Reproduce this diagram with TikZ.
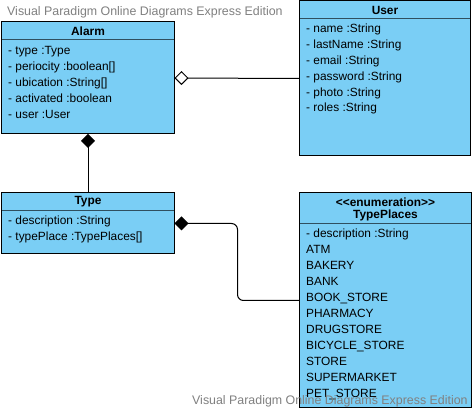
\documentclass[tikz,border=0pt]{standalone}
\usepackage{fontspec}
\setmainfont{Liberation Sans}
\usetikzlibrary{arrows.meta}
\definecolor{classfill}{RGB}{122,206,245}
\definecolor{divider}{RGB}{47,79,95}
\definecolor{wm}{RGB}{128,128,128}
\begin{document}
\begin{tikzpicture}[x=1pt,y=-1pt,
  cls/.style={draw=black, fill=classfill, line width=1pt, anchor=north west, inner sep=0pt, outer sep=0pt},
  hdr/.style={font=\bfseries\fontsize{11.9}{13.5}\selectfont, anchor=center, inner sep=0pt, align=center},
  attr/.style={font=\fontsize{11.9}{13}\selectfont, anchor=west, inner sep=0pt, text height=8.5pt, text depth=2.2pt},
  wmark/.style={text=wm, font=\fontsize{12.4}{14}\selectfont, anchor=west, inner sep=0pt, text height=8.8pt, text depth=2.6pt},
  divline/.style={draw=divider, line width=1pt},
  conn/.style={draw=black, line width=1pt},
  hollowdiamond/.style={{Diamond[fill=white, length=14pt, width=14pt]}-},
  fulldiamond/.style={{Diamond[length=14pt, width=14pt]}-}]
\useasboundingbox (0,0) rectangle (475,411);
\fill[white] (0,0) rectangle (475,411);

% class boxes
\node[cls, minimum width=173pt, minimum height=112pt] (alarm) at (1.5,22) {};
\node[cls, minimum width=173pt, minimum height=61pt] (type) at (1.5,193) {};
\node[cls, minimum width=171pt, minimum height=155pt] (user) at (299.5,1) {};
\node[cls, minimum width=172pt, minimum height=215pt] (tp) at (299.5,193) {};

% dividers
\draw[divline] ([yshift=-18pt,xshift=0.5pt]alarm.north west) -- ([yshift=-18pt,xshift=-0.5pt]alarm.north east);
\draw[divline] ([yshift=-17.5pt,xshift=0.5pt]type.north west) -- ([yshift=-17.5pt,xshift=-0.5pt]type.north east);
\draw[divline] ([yshift=-17.3pt,xshift=0.5pt]user.north west) -- ([yshift=-17.3pt,xshift=-0.5pt]user.north east);
\draw[divline] ([yshift=-31pt,xshift=0.5pt]tp.north west) -- ([yshift=-31pt,xshift=-0.5pt]tp.north east);

% headers
\node[hdr] (alarmh) at (88,31) {Alarm};
\node[hdr] (typeh) at (88,202) {Type};
\node[hdr] (userh) at (385,10) {User};
\node[hdr] (tph1) at (385.5,202) {{<}{<}enumeration{>}{>}};
\node[hdr] (tph2) at (385.5,215.5) {TypePlaces};

% Alarm attributes
\node[attr] (a1) at (8,51) {- type :Type};
\node[attr] (a2) at (8,67) {- periocity :boolean[]};
\node[attr] (a3) at (8,83) {- ubication :String[]};
\node[attr] (a4) at (8,99) {- activated :boolean};
\node[attr] (a5) at (8,115) {- user :User};

% User attributes
\node[attr] (u1) at (306,29) {- name :String};
\node[attr] (u2) at (306,45) {- lastName :String};
\node[attr] (u3) at (306,61) {- email :String};
\node[attr] (u4) at (306,77) {- password :String};
\node[attr] (u5) at (306,93) {- photo :String};
\node[attr] (u6) at (306,108.5) {- roles :String};

% Type attributes
\node[attr] (t1) at (8,221) {- description :String};
\node[attr] (t2) at (8,237) {- typePlace :TypePlaces[]};

% TypePlaces
\node[attr] (p0) at (306,234.5) {- description :String};
\node[attr] (p1) at (306,250.5) {ATM};
\node[attr] (p2) at (306,266.5) {BAKERY};
\node[attr] (p3) at (306,282.5) {BANK};
\node[attr] (p4) at (306,298.5) {BOOK\_STORE};
\node[attr] (p5) at (306,314.5) {PHARMACY};
\node[attr] (p6) at (306,330.5) {DRUGSTORE};
\node[attr] (p7) at (306,346.5) {BICYCLE\_STORE};
\node[attr] (p8) at (306,362.5) {STORE};
\node[attr] (p9) at (306,378.5) {SUPERMARKET};
\node[attr] (p10) at (306,394) {PET\_STORE};

% connectors
\draw[conn, hollowdiamond] (alarm.east) -- (user.west);
\draw[conn, fulldiamond] (alarm.south) -- (type.north);
\draw[conn, fulldiamond, rounded corners=6pt] (type.east) -- ++(63,0) |- (tp.west);

% watermarks
\node[wmark] (wm1) at (7,12) {Visual Paradigm Online Diagrams Express Edition};
\node[wmark] (wm2) at (192,401) {Visual Paradigm Online Diagrams Express Edition};
\end{tikzpicture}
\end{document}
